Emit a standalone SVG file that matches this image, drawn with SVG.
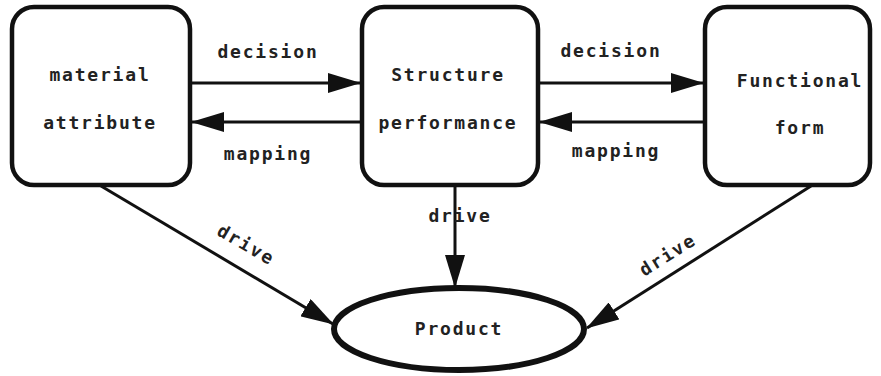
<svg xmlns="http://www.w3.org/2000/svg" width="881" height="376" viewBox="0 0 881 376">
<style>
.box{fill:#fff;stroke:#111;stroke-width:4.5}
.ell{fill:#fff;stroke:#111;stroke-width:6}
.ln{stroke:#111;stroke-width:3;fill:none}
.t{font-family:"DejaVu Sans Mono","Liberation Mono",monospace;font-weight:bold;font-size:18px;letter-spacing:1.8px;fill:#222;text-anchor:middle}
</style>
<defs>
<marker id="ah" markerUnits="userSpaceOnUse" markerWidth="34" markerHeight="20" refX="32" refY="10" orient="auto">
<path d="M0,0 L33,10 L0,20 Z" fill="#111"/>
</marker>
</defs>
<rect width="881" height="376" fill="#fff"/>
<g id="connectors">
<line class="ln" x1="190" y1="83" x2="360" y2="83" marker-end="url(#ah)"/>
<line class="ln" x1="362" y1="122" x2="192" y2="122" marker-end="url(#ah)"/>
<line class="ln" x1="538" y1="83" x2="703" y2="83" marker-end="url(#ah)"/>
<line class="ln" x1="705" y1="122" x2="540" y2="122" marker-end="url(#ah)"/>
<line class="ln" x1="455" y1="186" x2="455" y2="287" marker-end="url(#ah)"/>
<line class="ln" x1="101" y1="186" x2="333" y2="324" marker-end="url(#ah)"/>
<line class="ln" x1="811" y1="186" x2="587" y2="328" marker-end="url(#ah)"/>
<text class="t" x="268" y="58">decision</text>
<text class="t" x="268" y="160">mapping</text>
<text class="t" x="611" y="57">decision</text>
<text class="t" x="616" y="157">mapping</text>
<text class="t" x="460" y="222">drive</text>
<text class="t" transform="translate(243,250) rotate(30)">drive</text>
<text class="t" transform="translate(671,260) rotate(-32)">drive</text>
</g>
<g id="material">
<rect class="box" x="12" y="7" width="178" height="178" rx="22"/>
<text class="t" x="100" y="81">material</text>
<text class="t" x="100" y="129">attribute</text>
</g>
<g id="structure">
<rect class="box" x="362" y="7" width="176" height="178" rx="22"/>
<text class="t" x="448" y="81">Structure</text>
<text class="t" x="448" y="129">performance</text>
</g>
<g id="functional">
<rect class="box" x="705" y="7" width="165" height="178" rx="22"/>
<text class="t" x="800" y="87">Functional</text>
<text class="t" x="800" y="134">form</text>
</g>
<g id="product">
<ellipse class="ell" cx="459" cy="329" rx="125" ry="41"/>
<text class="t" x="459" y="335">Product</text>
</g>
</svg>
